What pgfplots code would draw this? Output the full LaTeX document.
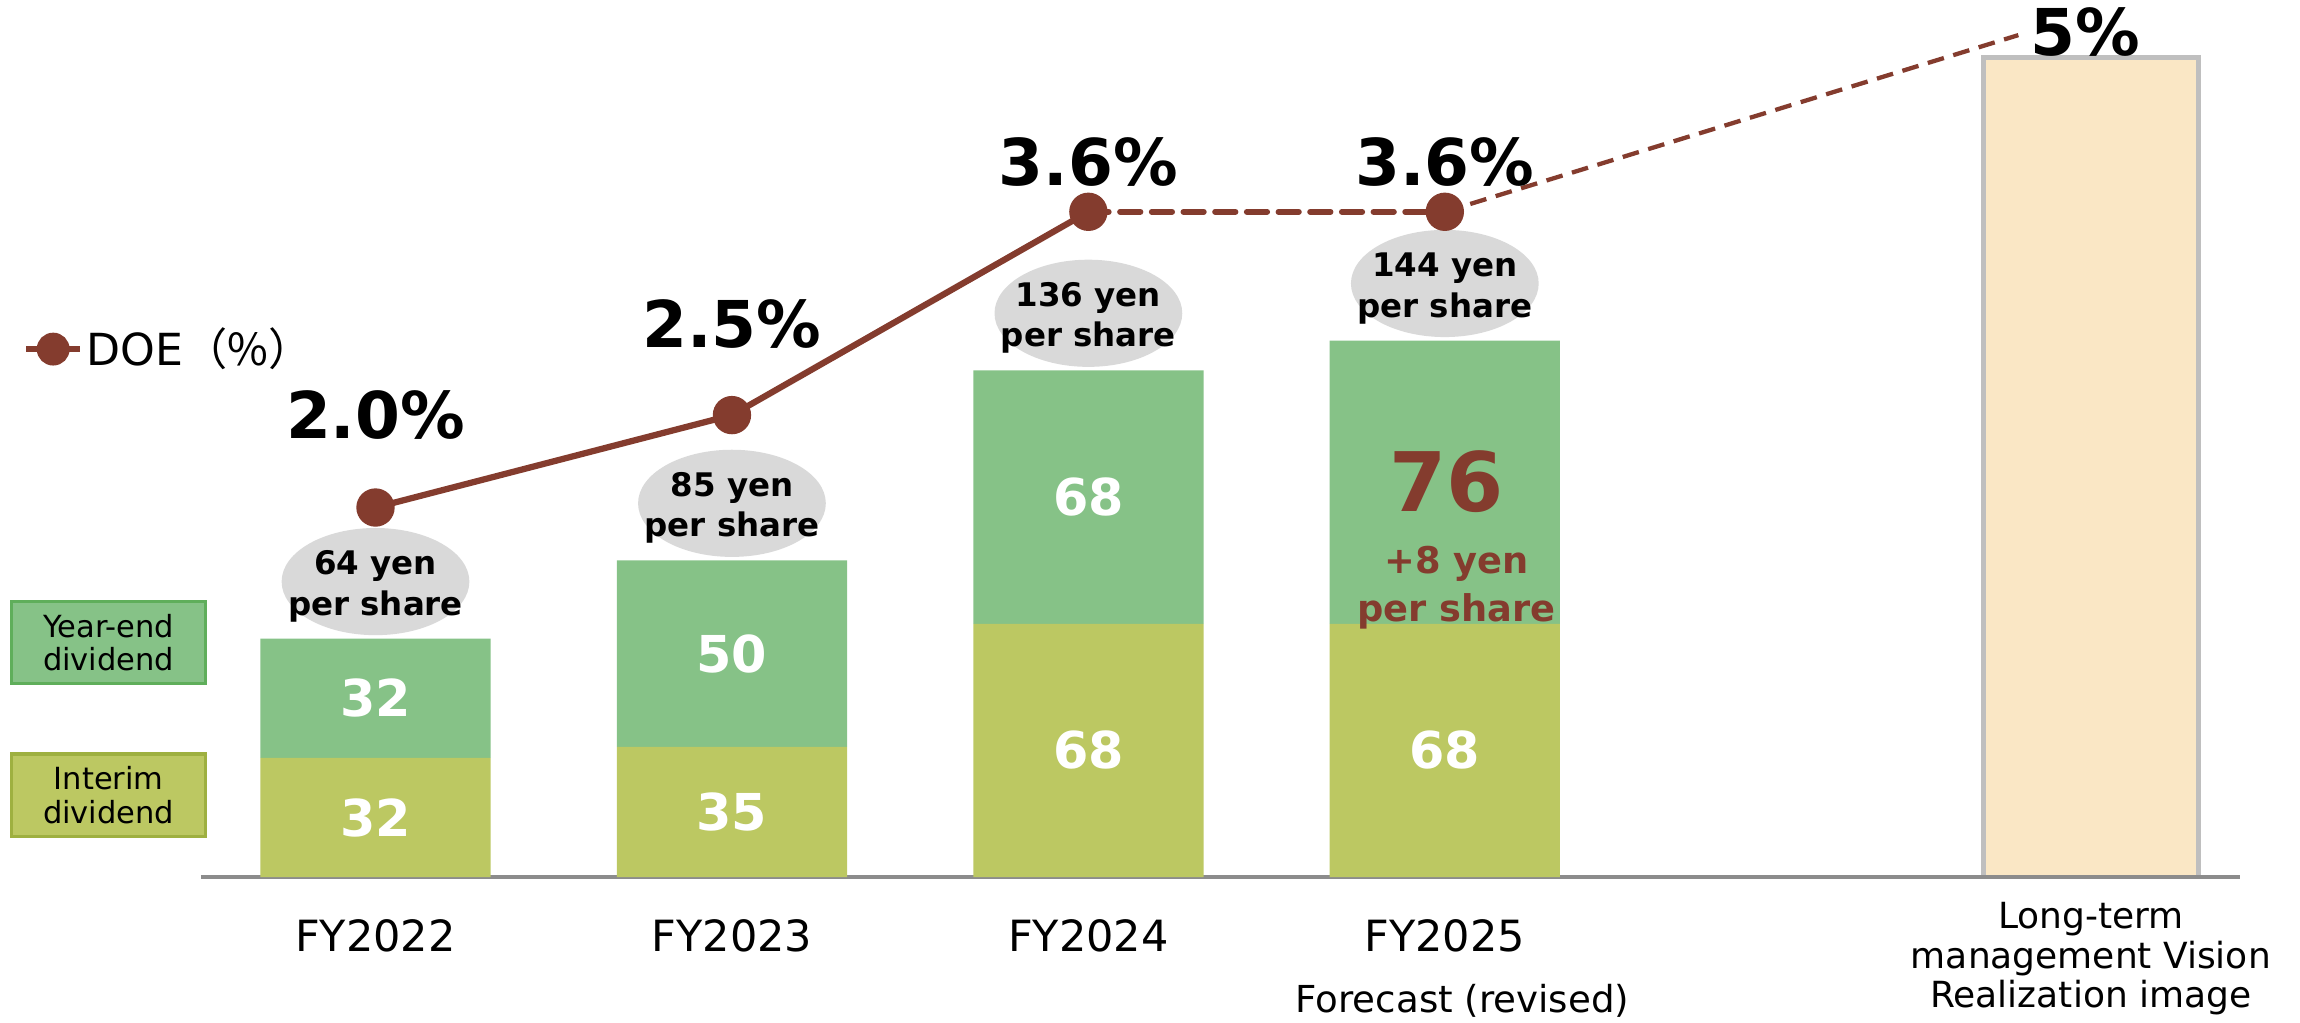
\documentclass[border=0pt]{standalone}
\usepackage{pgfplots}
\pgfplotsset{compat=1.18}
\usetikzlibrary{shapes.geometric}
\usepackage{fontspec}
\setmainfont{DejaVu Sans}
\newfontfamily\cjk{Noto Sans CJK JP}
\definecolor{yearend}{HTML}{86C287}
\definecolor{interim}{HTML}{BCC862}
\definecolor{yeB}{HTML}{5FAE5B}
\definecolor{inB}{HTML}{9EB040}
\definecolor{doe}{HTML}{843C2E}
\definecolor{ell}{HTML}{D9D9D9}
\definecolor{lt}{HTML}{FAE7C5}
\definecolor{ltB}{HTML}{BFBFBF}
\definecolor{axg}{HTML}{8C8C8C}
\pgfplotsset{base/.style={width=521.25pt, height=224.25pt, scale only axis,
  xmin=-0.4897, xmax=5.2305, clip=false}}
\newcommand{\fs}[1]{\fontsize{#1}{#1}\selectfont}
\tikzset{wnum/.style={text=white, font=\bfseries\fs{13}},
  elli/.style={ellipse, fill=ell, minimum width=48pt, minimum height=27.4pt, inner sep=0pt, yshift=14.6pt},
  etxt/.style={anchor=base, text=black, font=\bfseries\fs{8.3}},
  cat/.style={anchor=base, font=\fs{11}, yshift=-19.1pt},
  pct/.style={anchor=base, font=\bfseries\fs{16.5}}}
\begin{document}
\begin{tikzpicture}
\useasboundingbox (-51.375pt,-37.125pt) rectangle (536.625pt,224.25pt);
% long-term bar
\begin{axis}[base, ymin=0, ymax=235.4, hide axis]
\addplot[ybar, bar width=0.603, bar shift=0pt, fill=lt, draw=ltB, line width=1.1pt] coordinates {(4.8124,220)};
\end{axis}
% stacked dividend bars
\begin{axis}[base, ymin=0, ymax=235.4, ybar stacked, bar width=0.646,
  axis x line*=bottom, axis y line=none, xtick=\empty, ytick=\empty,
  axis line style={-, draw=axg, line width=1.1pt}]
\addplot[fill=interim, draw=none] coordinates {(0,32) (1,35) (2,68) (3,68)};
\addplot[fill=yearend, draw=none] coordinates {(0,32) (1,50) (2,68) (3,76)};
\end{axis}
% annotations (yen scale)
\begin{axis}[base, ymin=0, ymax=235.4, hide axis]
% white segment values
\node[wnum] at (axis cs:0,16) {32};
\node[wnum] at (axis cs:0,48) {32};
\node[wnum] at (axis cs:1,17.5) {35};
\node[wnum] at (axis cs:1,60) {50};
\node[wnum] at (axis cs:2,34) {68};
\node[wnum] at (axis cs:2,102) {68};
\node[wnum] at (axis cs:3,34) {68};
% FY2025 year-end annotation
\node[anchor=base, text=doe, font=\bfseries\fs{21}, xshift=0.5pt, yshift=93.4pt] at (axis cs:3,0) {76};
\node[anchor=base, text=doe, font=\bfseries\fs{9.4}, xshift=3pt, yshift=77.7pt] at (axis cs:3,0) {+8 yen};
\node[anchor=base, text=doe, font=\bfseries\fs{9.4}, xshift=3pt, yshift=65.3pt] at (axis cs:3,0) {per share};
% totals in ellipses
\node[elli] at (axis cs:0,64) {};
\node[elli] at (axis cs:1,85) {};
\node[elli] at (axis cs:2,136) {};
\node[elli] at (axis cs:3,144) {};
\node[etxt, yshift=16.3pt] at (axis cs:0,64) {64 yen};
\node[etxt, yshift=6.0pt] at (axis cs:0,64) {per share};
\node[etxt, yshift=16.3pt] at (axis cs:1,85) {85 yen};
\node[etxt, yshift=6.0pt] at (axis cs:1,85) {per share};
\node[etxt, yshift=16.3pt] at (axis cs:2,136) {136 yen};
\node[etxt, yshift=6.0pt] at (axis cs:2,136) {per share};
\node[etxt, yshift=16.3pt] at (axis cs:3,144) {144 yen};
\node[etxt, yshift=6.0pt] at (axis cs:3,144) {per share};
% category labels
\node[cat] at (axis cs:0,0) {FY2022};
\node[cat] at (axis cs:1,0) {FY2023};
\node[cat] at (axis cs:2,0) {FY2024};
\node[cat] at (axis cs:3,0) {FY2025};
\node[anchor=base, font=\fs{9.5}, xshift=4.5pt, yshift=-34.5pt] at (axis cs:3,0) {Forecast (revised)};
\node[anchor=base, font=\fs{9.2}, yshift=-13.1pt] at (axis cs:4.8124,0) {Long-term};
\node[anchor=base, font=\fs{9.2}, yshift=-23.25pt] at (axis cs:4.8124,0) {management Vision};
\node[anchor=base, font=\fs{9.2}, yshift=-33.4pt] at (axis cs:4.8124,0) {Realization image};
% 5% label
\node[pct, yshift=210pt] at (axis cs:4.798,0) {5\%};
% legend boxes
\node[fill=yearend, draw=yeB, line width=0.8pt, minimum width=49.5pt, minimum height=21pt,
  inner sep=0pt, align=center, font=\fs{7.8}, xshift=-23.6pt, yshift=60pt] at (rel axis cs:0,0) {Year-end\\[0.8pt]dividend};
\node[fill=interim, draw=inB, line width=0.8pt, minimum width=49.5pt, minimum height=21pt,
  inner sep=0pt, align=center, font=\fs{7.8}, xshift=-23.6pt, yshift=21pt] at (rel axis cs:0,0) {Interim\\[0.8pt]dividend};
\end{axis}
% DOE line
\begin{axis}[base, ymin=0, ymax=4.746, hide axis,
  legend style={at={(axis description cs:-0.0875,0.602)}, anchor=west, draw=none, fill=none,
    font=\fs{11.3}, inner sep=0pt, nodes={inner xsep=1pt}},
  legend image code/.code={\draw[#1, mark repeat=2, mark phase=2, mark size=3.4pt]
    plot coordinates {(0cm,0cm) (0.24cm,0cm) (0.48cm,0cm)};}]
\addplot[doe, line width=1.1pt, dash pattern=on 4.3pt off 2.5pt, forget plot]
  coordinates {(3,3.6) (4.609,4.556)};
\addplot[doe, line width=1.5pt, line cap=round, dash pattern=on 5.2pt off 2.9pt, forget plot]
  coordinates {(2,3.6) (3,3.6)};
\addplot[doe, line width=1.6pt, mark=*, mark size=4.1pt, mark options={solid, fill=doe}]
  coordinates {(0,2.0) (1,2.5) (2,3.6)};
\addlegendentry{DOE{\cjk （\%）}}
\addplot[doe, line width=1.6pt, only marks, mark=*, mark size=4.1pt, mark options={fill=doe}, forget plot]
  coordinates {(3,3.6)};
\node[pct, yshift=17.6pt] at (axis cs:0,2.0) {2.0\%};
\node[pct, yshift=17.3pt] at (axis cs:1,2.5) {2.5\%};
\node[pct, yshift=6.75pt] at (axis cs:2,3.6) {3.6\%};
\node[pct, yshift=6.75pt] at (axis cs:3,3.6) {3.6\%};
\end{axis}
\end{tikzpicture}
\end{document}
